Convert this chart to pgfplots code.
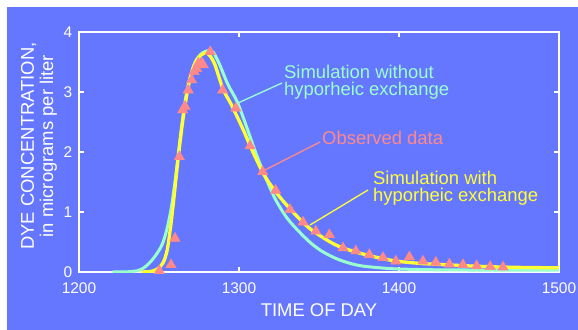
\documentclass[border=0pt]{standalone}
\usepackage{pgfplots}
\pgfplotsset{compat=1.18}
\usepackage{fontspec}
\setmainfont{Liberation Sans}
\definecolor{bg}{RGB}{102,119,255}
\definecolor{aqua}{RGB}{153,255,204}
\definecolor{yel}{RGB}{255,255,51}
\definecolor{salmon}{RGB}{255,136,136}
\begin{document}
\begin{tikzpicture}
\path[use as bounding box, fill=white] (-79bp,-58bp) rectangle (499bp,272bp);
\fill[bg] (-72bp,-58bp) rectangle (499bp,265bp);
\begin{axis}[at={(0,0)}, anchor=south west, scale only axis,
  width=480bp, height=240bp,
  xmin=1200, xmax=1500, ymin=0, ymax=4,
  xtick={1200,1300,1400,1500}, ytick={0,1,2,3,4},
  tick align=inside, major tick length=5bp,
  axis line style={white, line width=1.2bp},
  every tick/.style={white, line width=1.2bp},
  /pgf/number format/assume math mode=true,
  /pgf/number format/1000 sep={},
  ticklabel style={font=\fontsize{15.5}{18}\selectfont, text=white, inner sep=0pt},
  xticklabel style={anchor=north, yshift=-11bp},
  yticklabel style={anchor=east, xshift=-6.5bp},
]
% Simulation without hyporheic exchange
\addplot[aqua, line width=3bp, smooth, tension=0.5] coordinates {
(1221,0) (1230,0.003) (1236,0.02) (1240,0.06) (1244,0.15) (1248,0.28)
(1252,0.46) (1255,0.72) (1258,1.12) (1261,1.72) (1264,2.4) (1267,2.95)
(1270,3.3) (1273,3.52) (1277,3.65) (1281,3.69) (1284,3.66) (1288,3.45)
(1293,3.13) (1299,2.83) (1305,2.4) (1311,1.95) (1317,1.55) (1323,1.2)
(1330,0.9) (1338,0.66) (1345,0.48) (1351,0.36) (1357,0.27) (1363,0.2)
(1370,0.14) (1377,0.1) (1388,0.07) (1400,0.05) (1430,0.035) (1500,0.03)};
% Simulation with hyporheic exchange
\addplot[yel, line width=3.3bp, smooth, tension=0.5] coordinates {
(1239,0) (1245,0.01) (1249,0.05) (1252.5,0.15) (1255,0.35) (1257,0.7)
(1259,1.15) (1262,1.9) (1265,2.55) (1268,3.05) (1271,3.37) (1274,3.55)
(1277,3.63) (1279.5,3.65) (1282,3.6) (1285,3.45) (1290,3.05) (1295,2.8)
(1299,2.58) (1303,2.35) (1307,2.1) (1311,1.87) (1315,1.65) (1319,1.48)
(1324,1.3) (1328,1.17) (1332,1.05) (1338,0.88) (1344,0.73) (1351,0.6)
(1357,0.5) (1363,0.42) (1372,0.34) (1382,0.27) (1392,0.21) (1402,0.17)
(1415,0.14) (1430,0.12) (1445,0.1) (1461,0.085) (1480,0.075) (1500,0.07)};
% Observed data
\addplot[only marks, mark=triangle*, mark size=6pt, mark options={fill=salmon, draw=salmon}] coordinates {
(1250.2,0.02) (1257.5,0.12) (1260,0.56) (1262.7,1.92) (1264.8,2.70)
(1266.3,2.76) (1268.3,3.03) (1270.4,3.20) (1271.9,3.34) (1273.5,3.39)
(1274.6,3.48) (1276.7,3.48) (1277.7,3.45) (1282,3.67) (1289.8,3.03)
(1298,2.73) (1306.9,2.10) (1314.8,1.67) (1322.9,1.36) (1331.9,1.04)
(1340,0.83) (1348,0.68) (1356.5,0.62) (1365,0.40) (1373,0.35)
(1381.5,0.29) (1390,0.24) (1398,0.18) (1406.5,0.25) (1415,0.18)
(1423,0.16) (1431.5,0.13) (1440,0.12) (1448.5,0.10) (1457,0.09) (1465,0.08)};
\end{axis}
% annotation leader lines
\draw[aqua, line width=1.3bp] (203bp,189bp) -- (159bp,169bp);
\draw[salmon, line width=1.3bp] (241bp,130bp) -- (186bp,102bp);
\draw[yel, line width=1.3bp] (289bp,82bp) -- (231bp,47bp);
% annotation texts
\begingroup
\fontsize{18.5}{18}\selectfont
\node[anchor=base west, inner sep=0pt, text=aqua] at (205bp,193bp) {Simulation without};
\node[anchor=base west, inner sep=0pt, text=aqua] at (205bp,176bp) {hyporheic exchange};
\node[anchor=base west, inner sep=0pt, text=salmon] at (243bp,127bp) {Observed data};
\node[anchor=base west, inner sep=0pt, text=yel] at (294bp,87bp) {Simulation with};
\node[anchor=base west, inner sep=0pt, text=yel] at (294bp,70bp) {hyporheic exchange};
% axis labels
\node[anchor=base, inner sep=0pt, text=white] at (240bp,-44.5bp) {TIME OF DAY};
\node[anchor=base, inner sep=0pt, text=white, rotate=90] at (-45bp,126bp) {DYE CONCENTRATION,};
\node[anchor=base, inner sep=0pt, text=white, rotate=90] at (-26bp,126bp) {in micrograms per liter};
\endgroup
\end{tikzpicture}
\end{document}
